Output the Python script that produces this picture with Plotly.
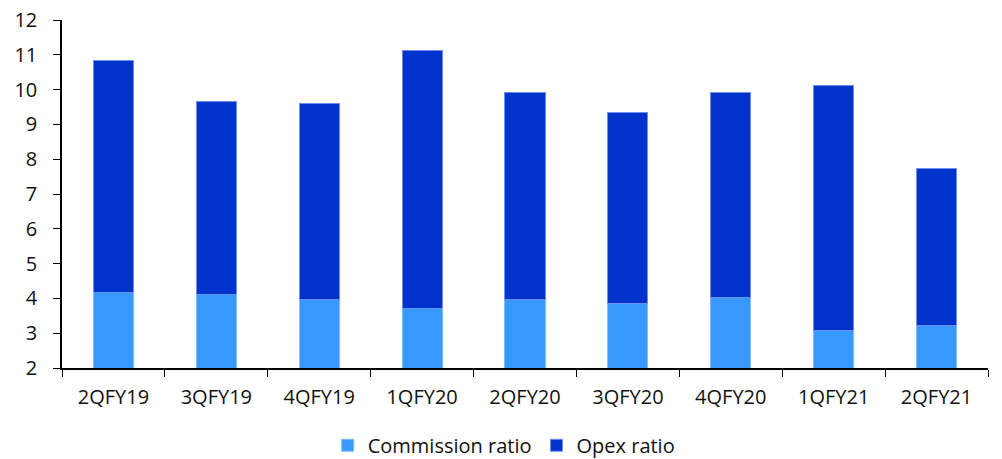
import plotly.graph_objects as go

quarters = ["2QFY19", "3QFY19", "4QFY19", "1QFY20", "2QFY20",
            "3QFY20", "4QFY20", "1QFY21", "2QFY21"]
commission_ratio = [4.18, 4.12, 3.97, 3.71, 3.97, 3.86, 4.03, 3.09, 3.23]
opex_ratio = [6.65, 5.53, 5.63, 7.41, 5.94, 5.48, 5.88, 7.03, 4.49]

FONT = "'Open Sans', Lato, sans-serif"

fig = go.Figure()
fig.add_trace(go.Bar(
    x=quarters, y=commission_ratio, name="Commission ratio",
    marker=dict(color="#3798FF", line=dict(color="#7FBFFF", width=1)),
))
fig.add_trace(go.Bar(
    x=quarters, y=opex_ratio, name="Opex ratio",
    marker=dict(color="#0033CC", line=dict(color="#6F8FEF", width=1)),
))

fig.update_layout(
    barmode="stack",
    bargap=0.61,
    width=1002, height=459,
    margin=dict(l=62, r=14, t=20, b=91, autoexpand=False),
    paper_bgcolor="white", plot_bgcolor="white",
    font=dict(family=FONT, size=20, color="#111111"),
    legend=dict(orientation="h", x=0.477, xanchor="center", y=-0.222,
                yanchor="middle", font=dict(size=20), itemwidth=30,
                traceorder="normal"),
    xaxis=dict(
        showline=True, linecolor="black", linewidth=1.5,
        ticks="outside", ticklen=7, tickcolor="black",
        tickson="boundaries", showgrid=False,
        tickfont=dict(size=20), ticklabelstandoff=10,
    ),
    yaxis=dict(
        range=[2, 12], dtick=1, showline=True, linecolor="black",
        linewidth=1.5, ticks="outside", ticklen=7, tickcolor="black",
        showgrid=False, zeroline=False, tickfont=dict(size=20),
        ticklabelstandoff=12,
    ),
)

fig.write_html("out.html")
